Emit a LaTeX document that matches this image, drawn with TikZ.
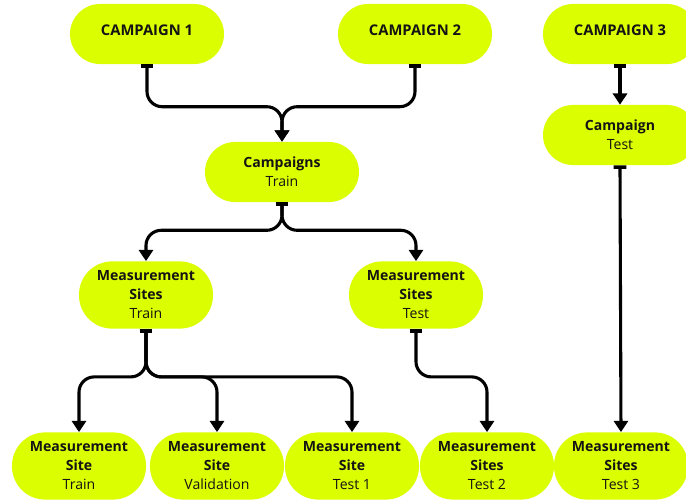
\documentclass[tikz,border=0pt]{standalone}
\usepackage{fontspec}
\setsansfont{Open Sans}
\usetikzlibrary{positioning}
\usetikzlibrary{arrows.meta}
\usetikzlibrary{calc}
\definecolor{lime}{HTML}{DBFF00}
\definecolor{ink}{HTML}{141414}

\tikzset{
  pill/.style={fill=lime, rounded corners=0.75cm, minimum width=3.85cm, minimum height=1.5cm,
    align=center, font=\sffamily\fontsize{10}{13.5}\selectfont, text=ink, inner sep=2pt},
  titlepill/.style={pill, font=\sffamily\bfseries\fontsize{10.5}{13.5}\selectfont,
    text height=0.3cm, text depth=0.25cm},
  sitebox/.style={pill, minimum width=3.35cm, minimum height=1.68cm, rounded corners=0.83cm},
  link/.style={line width=2.2pt, rounded corners=0.38cm,
    {Bar[width=9pt,line width=2.6pt]}-{Triangle[width=10pt,length=8pt]}}
}

\begin{document}
\begin{tikzpicture}[x=0.025cm,y=-0.025cm]

\useasboundingbox (0,0) rectangle (686,502);
\clip (0,0) rectangle (686,502);

% campaigns
{
\node[titlepill] (camp1) at (147,34) {CAMPAIGN 1};
\node[titlepill] (camp2) at (415,34) {CAMPAIGN 2};
\node[titlepill] (camp3) at (620,34) {CAMPAIGN 3};
}

\node[pill] (campTrain) at (282,172) {\textbf{Campaigns}\\Train};
\node[pill] (campTest) at (620,135) {\textbf{Campaign}\\Test};

% measurement sites
{
\node[sitebox] (msTrain) at (146,295) {\textbf{Measurement}\\\textbf{Sites}\\Train};
\node[sitebox] (msTest) at (416,295) {\textbf{Measurement}\\\textbf{Sites}\\Test};
}

% bottom row
{
\node[sitebox] (siteTrain) at (79,466) {\textbf{Measurement}\\\textbf{Site}\\Train};
\node[sitebox] (siteVal) at (217,466) {\textbf{Measurement}\\\textbf{Site}\\Validation};
\node[sitebox] (siteTest1) at (352,466) {\textbf{Measurement}\\\textbf{Site}\\Test 1};
\node[sitebox] (siteTest2) at (487,466) {\textbf{Measurement}\\\textbf{Sites}\\Test 2};
\node[sitebox] (siteTest3) at (621,466) {\textbf{Measurement}\\\textbf{Sites}\\Test 3};
}

% junctions
\coordinate (jCamp) at ($(campTrain.north)+(0,-35)$);

\draw[link] (camp1.south) |- (jCamp) -- (campTrain.north);
\draw[link] (camp2.south) |- (jCamp) -- (campTrain.north);
\draw[link] (camp3.south) -- (campTest.north);
\draw[link] (campTest.south) -- (siteTest3.north);

\draw[link] (campTrain.south) -- ++(0,28) -| (msTrain.north);
\draw[link] (campTrain.south) -- ++(0,28) -| (msTest.north);

\draw[link] (msTrain.south) -- ++(0,48) -| (siteTrain.north);
\draw[link] (msTrain.south) -- ++(0,48) -| (siteVal.north);
\draw[link] (msTrain.south) -- ++(0,48) -| (siteTest1.north);
\draw[link] (msTest.south) -- ++(0,48) -| (siteTest2.north);

\end{tikzpicture}
\end{document}
